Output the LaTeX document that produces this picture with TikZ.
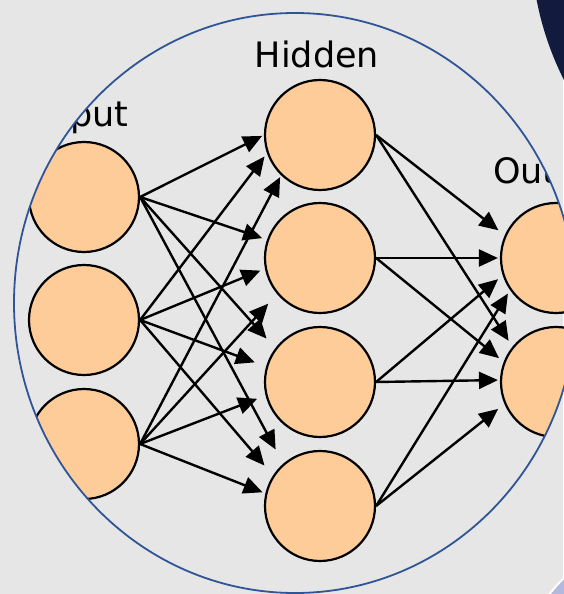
\documentclass[tikz,border=0pt]{standalone}
\usepackage{fontspec}
\setmainfont{DejaVu Sans}
\usetikzlibrary{arrows.meta}
\definecolor{bg}{HTML}{E6E6E6}
\definecolor{peach}{HTML}{FECC99}
\definecolor{ring}{HTML}{2F5597}
\definecolor{navy}{HTML}{121B3D}
\definecolor{lav}{HTML}{B3B8DE}
\begin{document}
\begin{tikzpicture}[x=1pt,y=-1pt,
  neuron/.style={circle, draw=black, line width=2.2pt, fill=peach, minimum size=110pt, inner sep=0pt},
  lbl/.style={font=\fontsize{35}{42}\selectfont, anchor=base, inner sep=0pt},
  arr/.style={line width=2.4pt, -{Triangle[length=19pt,width=17pt]}}]
\useasboundingbox (0,0) rectangle (563,594);
\fill[bg] (0,0) rectangle (563,594);
\fill[navy] (840,-59) circle (309);
\fill[lav, draw=white, line width=2pt] (660,680) circle (140);
\begin{scope}
\clip (295,303) ellipse [x radius=281, y radius=290];
\node[neuron] (I1) at (84,197) {};
\node[neuron] (I2) at (84,320) {};
\node[neuron] (I3) at (84,444) {};
\node[neuron] (H1) at (320,135) {};
\node[neuron] (H2) at (320,258) {};
\node[neuron] (H3) at (320,382) {};
\node[neuron] (H4) at (320,506) {};
\node[neuron] (O1) at (556,258) {};
\node[neuron] (O2) at (556,382) {};
\node[lbl] (tin) at (83,126) {Input};
\node[lbl] (thid) at (317,67) {Hidden};
\node[lbl] (tout) at (554,183) {Output};
\draw[arr, shorten >=2pt] (I1.east) -- (H1.180);
\draw[arr, shorten >=4pt] (I2.east) -- (H1.199);
\draw[arr, shorten >=2pt] (I3.east) -- (H1.226);
\draw[arr, shorten >=5pt] (I1.east) -- (H2.161);
\draw[arr, shorten >=5pt] (I2.east) -- (H2.191);
\draw[arr, shorten >=13pt] (I3.east) -- (H2.220);
\draw[arr, shorten >=13pt] (I1.east) -- (H3.143);
\draw[arr, shorten >=12pt] (I2.east) -- (H3.164);
\draw[arr, shorten >=9pt] (I3.east) -- (H3.194);
\draw[arr, shorten >=16pt] (I1.east) -- (H4.131);
\draw[arr, shorten >=13pt] (I2.east) -- (H4.147);
\draw[arr, shorten >=3pt] (I3.east) -- (H4.167);
\draw[arr, shorten >=8pt] (H1.east) -- (O1.156);
\draw[arr, shorten >=2pt] (H2.east) -- (O1.180);
\draw[arr, shorten >=6pt] (H3.east) -- (O1.198);
\draw[arr, shorten >=4pt] (H4.east) -- (O1.215);
\draw[arr, shorten >=7pt] (H1.east) -- (O2.141);
\draw[arr, shorten >=6pt] (H2.east) -- (O2.159);
\draw[arr, shorten >=2pt] (H3.east) -- (O2.178);
\draw[arr, shorten >=8pt] (H4.east) -- (O2.203);
\end{scope}
\draw[ring, line width=1.8pt] (295,303) ellipse [x radius=281, y radius=290];
\end{tikzpicture}
\end{document}
